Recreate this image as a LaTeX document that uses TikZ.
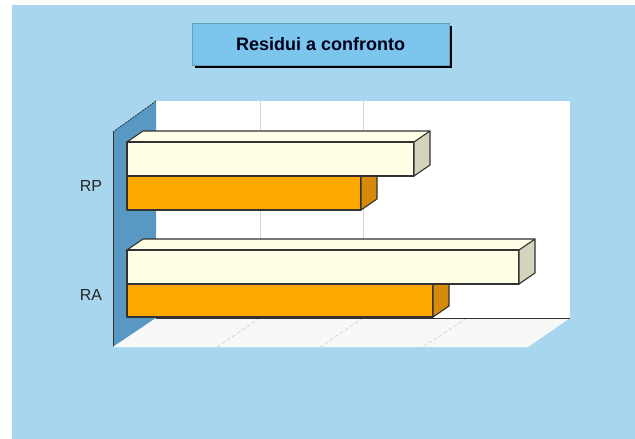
\documentclass[tikz,border=0pt]{standalone}
\usepackage{fontspec}
\setmainfont{Liberation Sans}
\definecolor{sky}{RGB}{168,214,238}
\definecolor{titlefill}{RGB}{124,198,238}
\definecolor{wallblue}{RGB}{88,152,194}
\definecolor{cream}{RGB}{255,255,230}
\definecolor{creamside}{RGB}{212,212,188}
\definecolor{orangefront}{RGB}{255,168,0}
\definecolor{orangeside}{RGB}{214,138,10}
\definecolor{floorcol}{RGB}{248,248,248}
\definecolor{gridcol}{RGB}{214,214,214}
\definecolor{edge}{RGB}{50,50,50}
\tikzset{
  barline/.style={draw=edge, line width=1.1pt, line join=round},
  gridline/.style={draw=gridcol, line width=0.9pt},
  floorgrid/.style={draw=gridcol, line width=0.8pt, dash pattern=on 4pt off 2pt},
  axislabel/.style={font=\fontsize{16}{18}\selectfont, text=black!85, inner sep=0pt},
}
% args: x0, ytop, ybot, xright, front fill, side fill
\newcommand\mybarbox[6]{%
  \fill[#5] (#1,#2) -- ++(16,-11) -- (#4+16,#2-11) -- (#4,#2) -- cycle;
  \draw[barline, fill=#5] (#1,#2) rectangle (#4,#3);
  \draw[barline, fill=#6] (#4,#2) -- (#4+16,#2-11) -- (#4+16,#3-11) -- (#4,#3) -- cycle;
  \draw[barline] (#1,#2) -- (#1+16,#2-11) -- (#4+16,#2-11);
}
\begin{document}
\begin{tikzpicture}[x=1pt,y=-1pt]
\useasboundingbox (0,0) rectangle (635,439);
\fill[white] (0,0) rectangle (635,439);
\fill[sky] (12,5) rectangle (635,439);
% title
\fill[black] (195,26) rectangle (452,68);
\node[draw=titlefill!80!black, line width=0.4pt, fill=titlefill, minimum width=257pt, minimum height=42pt, inner sep=0pt,
      font=\bfseries\fontsize{18}{20}\selectfont, text=black!90!blue, anchor=north west] (title) at (192,23) {Residui a confronto};
% back wall
\fill[white] (156,101) rectangle (570,318);
\draw[gridline] (260,101) -- (260,318);
\draw[gridline] (363,101) -- (363,318);
% left wall
\fill[wallblue] (113,132) -- (156,101) -- (156,318) -- (113,347) -- cycle;
\draw[edge, line width=0.8pt, dash pattern=on 2pt off 1pt] (113,132) -- (156,101);
\draw[edge, line width=1pt] (113,132) -- (113,347);
% floor
\fill[floorcol] (113,347) -- (156,318) -- (570,318) -- (528,347) -- cycle;
\draw[floorgrid] (260,318) -- (217,347);
\draw[floorgrid] (363,318) -- (320,347);
\draw[floorgrid] (467,318) -- (423,347);
\draw[edge, line width=1pt] (156,318) -- (570,318);
% bars RP
\mybarbox{127}{176}{210}{361}{orangefront}{orangeside}
\mybarbox{127}{142}{176}{414}{cream}{creamside}
% bars RA
\mybarbox{127}{284}{317}{433}{orangefront}{orangeside}
\mybarbox{127}{250}{284}{519}{cream}{creamside}
% labels
\node[axislabel] (rp) at (91,186) {RP};
\node[axislabel] (ra) at (91,295) {RA};
\end{tikzpicture}
\end{document}
